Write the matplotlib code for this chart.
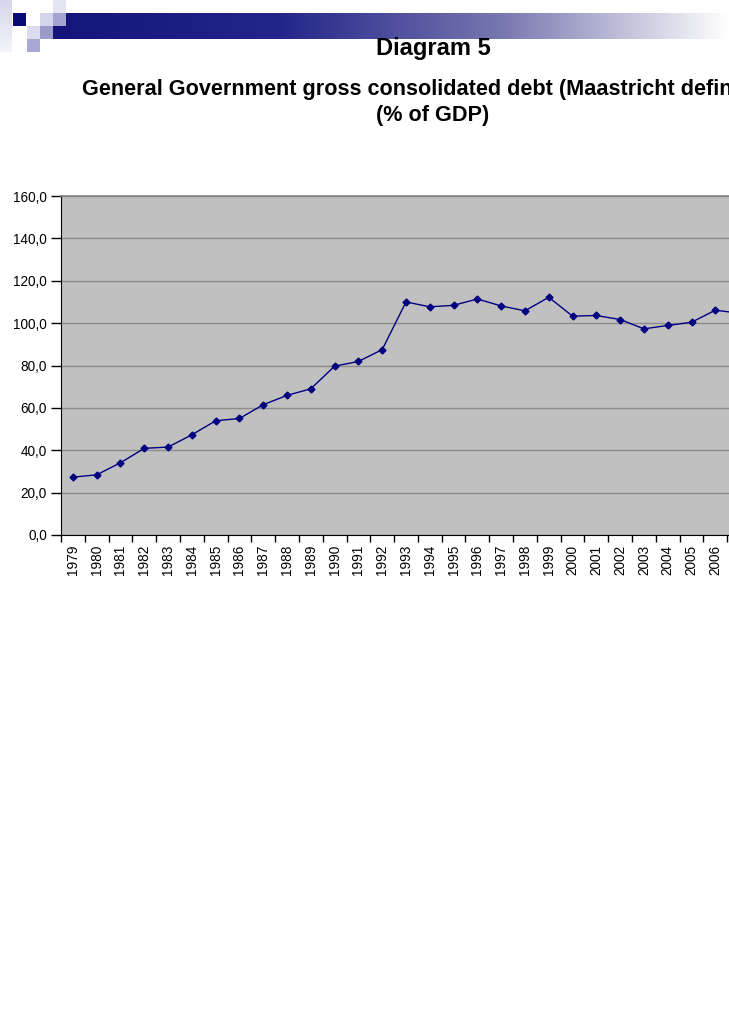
import matplotlib
matplotlib.use("agg")
import matplotlib.pyplot as plt
import numpy as np
from matplotlib.patches import Rectangle

plt.rcParams['font.family'] = ['Liberation Sans', 'DejaVu Sans']

years = [str(y) for y in range(1979, 2008)]
debt = [27.3, 28.4, 34.1, 40.9, 41.5, 47.3, 53.9, 55.0, 61.5, 65.9,
        69.0, 79.7, 81.9, 87.5, 110.0, 107.7, 108.4, 111.4, 108.1, 105.8,
        112.2, 103.3, 103.6, 101.7, 97.3, 98.9, 100.4, 106.1, 104.7]
yticks = [0, 20, 40, 60, 80, 100, 120, 140, 160]

W, H = 729, 1030
fig = plt.figure(figsize=(W / 100, H / 100), dpi=100)

# ---- header decoration (squares + gradient bar)
deco = fig.add_axes([0, 0, 1, 1], zorder=0)
grad = np.linspace(0, 1, 256).reshape(1, -1)
cmap = matplotlib.colors.LinearSegmentedColormap.from_list('bar', ['#14147a', '#24248a', '#7878b0', '#ffffff'])
deco.imshow(grad, cmap=cmap, extent=[53, W, 39, 13], aspect='auto', zorder=1)
stripe = matplotlib.colors.LinearSegmentedColormap.from_list('s', ['#d6d6ec', '#f4f4fa'])
deco.imshow(np.linspace(0, 1, 64).reshape(-1, 1), cmap=stripe, extent=[0, 12, 52, 0], aspect='auto', zorder=1)
squares = [(13, 13, '#0a0a78'), (40, 13, '#d4d4ea'), (53, 0, '#e4e4f2'), (53, 13, '#a4a4d0'),
           (27, 26, '#dcdcee'), (40, 26, '#9a9acb'), (27, 39, '#a8a8d4')]
for sx, sy, c in squares:
    deco.add_patch(Rectangle((sx, sy), 13, 13, facecolor=c, edgecolor='none', zorder=2))
deco.set_xlim(0, W)
deco.set_ylim(H, 0)
deco.axis('off')

# ---- titles
fig.text(433 / W, 1 - 48 / H, 'Diagram 5', ha='center', va='center', fontsize=17, fontweight='bold')
fig.text(434 / W, 1 - 89 / H, 'General Government gross consolidated debt (Maastricht definition)',
         ha='center', va='center', fontsize=15.6, fontweight='bold')
fig.text(433 / W, 1 - 116 / H, '(% of GDP)', ha='center', va='center', fontsize=15.6, fontweight='bold')

# ---- chart
left, right, top, bottom = 61, 751, 196, 535
ax = fig.add_axes([left / W, 1 - bottom / H, (right - left) / W, (bottom - top) / H], zorder=3)
ax.set_facecolor('#c0c0c0')
x = np.arange(len(years))
ax.plot(x, debt, color='#000080', lw=1, marker='D', markersize=3.5, clip_on=False, zorder=3)
ax.set_xlim(-0.5, len(years) - 0.5)
ax.set_ylim(0, 160)
ax.set_yticks(yticks)
ax.set_yticklabels(['%d,0' % v for v in yticks], fontsize=9.8)
ax.yaxis.grid(True, color='#8c8c8c', lw=1)
ax.set_axisbelow(True)
ax.set_xticks(x)
ax.set_xticklabels(years, rotation=90, fontsize=9.8)
ax.set_xticks(np.arange(-0.5, len(years)), minor=True)
ax.tick_params(axis='x', which='major', length=0, pad=7)
ax.tick_params(axis='x', which='minor', length=5, width=1, direction='out')
ax.tick_params(axis='y', length=7, width=1, direction='out', pad=3)
for s in ['left', 'bottom']:
    ax.spines[s].set_color('black')
ax.spines['top'].set_color('#808080')
ax.spines['top'].set_linewidth(1.2)
ax.spines['right'].set_visible(False)

fig.savefig('out.png', dpi=100)
